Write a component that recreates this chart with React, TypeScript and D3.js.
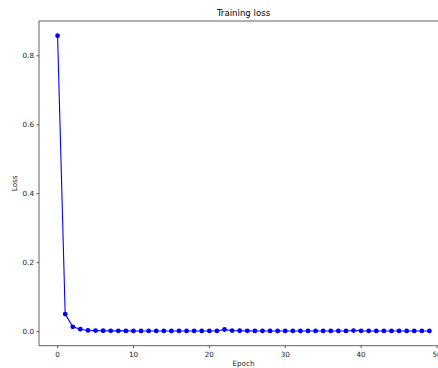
import React from "react";
import * as d3 from "d3";

const epochs: number[] = Array.from({ length: 50 }, (_, i) => i);
const lossValues: number[] = [
  0.858, 0.051, 0.014, 0.007, 0.0035, 0.003, 0.0025, 0.0022, 0.0022, 0.0021,
  0.002, 0.002, 0.002, 0.002, 0.002, 0.002, 0.002, 0.002, 0.002, 0.002,
  0.002, 0.002, 0.0062, 0.003, 0.0025, 0.0022, 0.002, 0.002, 0.002, 0.002,
  0.002, 0.002, 0.002, 0.002, 0.002, 0.002, 0.002, 0.002, 0.002, 0.0032,
  0.0022, 0.002, 0.002, 0.002, 0.002, 0.002, 0.002, 0.002, 0.002, 0.002,
];
const xTicks: number[] = [0, 10, 20, 30, 40, 50];
const yTicks: number[] = [0.0, 0.2, 0.4, 0.6, 0.8];
const title = "Training loss";
const xLabel = "Epoch";
const yLabel = "Loss";

const W = 438;
const H = 368;
const left = 39;
const right = 448;
const top = 21;
const bottom = 345.7;
const font = "DejaVu Sans, sans-serif";
const spine = "#3a3a3a";

export default function App() {
  const xMin = d3.min(epochs)!;
  const xMax = d3.max(epochs)!;
  const xr = xMax - xMin;
  const yMin = d3.min(lossValues)!;
  const yMax = d3.max(lossValues)!;
  const yr = yMax - yMin;
  const x = d3.scaleLinear().domain([xMin - 0.05 * xr, xMax + 0.05 * xr]).range([left, right]);
  const y = d3.scaleLinear().domain([yMin - 0.05 * yr, yMax + 0.05 * yr]).range([bottom, top]);
  const data = epochs.map((e, i) => [e, lossValues[i]] as [number, number]);
  const line = d3.line<[number, number]>().x((d) => x(d[0])).y((d) => y(d[1]));

  return (
    <svg
      width={W}
      height={H}
      style={{ position: "fixed", left: 0, top: 0, background: "#fff" }}
      fontFamily={font}
    >
      <rect x={0} y={0} width={W} height={H} fill="#fff" />
      <text x={(left + right) / 2} y={16} textAnchor="middle" fontSize={8.6} fill="#000">
        {title}
      </text>
      {/* spines */}
      <line x1={left} x2={right} y1={top} y2={top} stroke={spine} strokeWidth={0.8} />
      <line x1={left} x2={right} y1={bottom} y2={bottom} stroke={spine} strokeWidth={0.8} />
      <line x1={left} x2={left} y1={top} y2={bottom} stroke={spine} strokeWidth={0.8} />
      <line x1={right} x2={right} y1={top} y2={bottom} stroke={spine} strokeWidth={0.8} />
      {xTicks.map((t) => (
        <g key={"x" + t}>
          <line x1={x(t)} x2={x(t)} y1={bottom} y2={bottom + 2.5} stroke={spine} strokeWidth={0.8} />
          <text x={x(t)} y={bottom + 11} textAnchor="middle" fontSize={7.2} fill="#222">
            {t}
          </text>
        </g>
      ))}
      {yTicks.map((t) => (
        <g key={"y" + t}>
          <line x1={left - 2.5} x2={left} y1={y(t)} y2={y(t)} stroke={spine} strokeWidth={0.8} />
          <text x={left - 5} y={y(t) + 2.6} textAnchor="end" fontSize={7.2} fill="#222">
            {t.toFixed(1)}
          </text>
        </g>
      ))}
      <text x={(left + right) / 2} y={366} textAnchor="middle" fontSize={7.2} fill="#222">
        {xLabel}
      </text>
      <text
        transform={`translate(17,${(top + bottom) / 2}) rotate(-90)`}
        textAnchor="middle"
        fontSize={7.2}
        fill="#222"
      >
        {yLabel}
      </text>
      <path d={line(data) || ""} fill="none" stroke="#0000ff" strokeWidth={1.1} />
      {data.map((d, i) => (
        <circle key={i} cx={x(d[0])} cy={y(d[1])} r={2.4} fill="#0000ff" />
      ))}
    </svg>
  );
}
